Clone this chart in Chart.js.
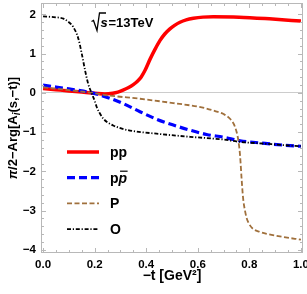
<!DOCTYPE html>
<html>
<head>
<meta charset="utf-8">
<script src="https://cdn.jsdelivr.net/npm/chart.js@4.4.0/dist/chart.umd.min.js"></script>
<style>
  html, body { margin: 0; padding: 0; background: #fff; }
  #wrap { width: 307px; height: 294px; }
</style>
</head>
<body>
<div id="wrap"><canvas id="chart" width="307" height="294"></canvas></div>
<script>
// axis ticks
const xTicks = [0, 0.2, 0.4, 0.6, 0.8, 1.0];
const yTicks = [-4, -3, -2, -1, 0, 1, 2];
const xMinorStep = 0.05;
const yMinorStep = 0.2;

const seriesLabels = ['pp', 'pp\u0304', 'P', 'O'];

// pp (solid red)
const ppT = [0, 0.05, 0.1, 0.15, 0.2, 0.24, 0.27, 0.29, 0.31, 0.33, 0.35, 0.365, 0.38, 0.395, 0.415, 0.435, 0.453, 0.472, 0.492, 0.51, 0.531, 0.555, 0.583, 0.62, 0.66, 0.76, 0.89, 1.0];
const ppV = [0.11, 0.08, 0.05, 0.02, -0.01, -0.03, -0.01, 0.02, 0.07, 0.13, 0.21, 0.29, 0.4, 0.57, 0.86, 1.12, 1.33, 1.5, 1.63, 1.72, 1.8, 1.86, 1.9, 1.93, 1.94, 1.93, 1.88, 1.83];

// p pbar (blue dashed)
const pbarT = [0, 0.05, 0.1, 0.15, 0.19, 0.26, 0.31, 0.376, 0.44, 0.505, 0.57, 0.634, 0.7, 0.764, 0.85, 0.93, 1.0];
const pbarV = [0.2, 0.15, 0.1, 0.05, 0.0, -0.14, -0.27, -0.48, -0.67, -0.82, -0.95, -1.06, -1.13, -1.22, -1.28, -1.33, -1.36];

// P (brown dashed)
const pomT = [0, 0.1, 0.19, 0.26, 0.376, 0.505, 0.6, 0.634, 0.67, 0.7, 0.725, 0.744, 0.757, 0.764, 0.77, 0.776, 0.783, 0.79, 0.8, 0.815, 0.84, 0.867, 0.93, 1.0];
const pomV = [0.14, 0.07, 0.0, -0.07, -0.15, -0.26, -0.35, -0.4, -0.47, -0.54, -0.66, -0.86, -1.2, -1.6, -2.2, -2.7, -3.0, -3.2, -3.35, -3.47, -3.54, -3.59, -3.67, -3.74];

// O (black dot-dash)
const oddT = [0, 0.04, 0.079, 0.1, 0.117, 0.137, 0.15, 0.163, 0.175, 0.189, 0.2, 0.208, 0.22, 0.234, 0.25, 0.272, 0.3, 0.337, 0.44, 0.57, 0.7, 0.764, 0.85, 0.93, 1.0];
const oddV = [1.95, 1.93, 1.89, 1.8, 1.68, 1.38, 1.0, 0.57, 0.23, -0.02, -0.2, -0.36, -0.52, -0.66, -0.75, -0.83, -0.9, -0.96, -1.04, -1.12, -1.19, -1.25, -1.29, -1.33, -1.36];

const FONT = "'Liberation Sans', Arial, sans-serif";

function pts(ts, vs) {
    return ts.map((t, i) => ({ x: t, y: vs[i] }));
}

// frame with inward major/minor ticks on all four sides
const frameTicks = {
    id: 'frameTicks',
    afterDatasetsDraw(chart) {
        const { ctx, chartArea: a, scales: { x, y } } = chart;
        ctx.save();
        ctx.strokeStyle = '#b8b8b8';
        ctx.lineWidth = 1;
        ctx.strokeRect(a.left + 0.5, a.top + 0.5, a.right - a.left - 1, a.bottom - a.top - 1);
        ctx.beginPath();
        const nx = Math.round((xTicks[xTicks.length - 1] - xTicks[0]) / xMinorStep);
        for (let i = 0; i <= nx; i++) {
            const v = xTicks[0] + i * xMinorStep;
            const px = Math.round(x.getPixelForValue(v)) + 0.5;
            const len = i % 4 === 0 ? 5 : 3;
            ctx.moveTo(px, a.bottom); ctx.lineTo(px, a.bottom - len);
            ctx.moveTo(px, a.top); ctx.lineTo(px, a.top + len);
        }
        const ny = Math.round((yTicks[yTicks.length - 1] - yTicks[0]) / yMinorStep);
        for (let i = 0; i <= ny; i++) {
            const v = yTicks[0] + i * yMinorStep;
            const py = Math.round(y.getPixelForValue(v)) + 0.5;
            const len = i % 5 === 0 ? 5 : 3;
            ctx.moveTo(a.left, py); ctx.lineTo(a.left + len, py);
            ctx.moveTo(a.right, py); ctx.lineTo(a.right - len, py);
        }
        ctx.stroke();
        ctx.restore();
    }
};

// legend inside the plot, annotation and rotated y title
const extras = {
    id: 'extras',
    afterDraw(chart) {
        const { ctx, chartArea: a } = chart;
        ctx.save();

        // legend
        const lx0 = 67, lx1 = 99, tx = 110, y0 = 152, dy = 25.7;
        chart.data.datasets.forEach((ds, i) => {
            const ly = y0 + i * dy;
            ctx.strokeStyle = ds.borderColor;
            ctx.lineWidth = ds.borderWidth;
            ctx.setLineDash(ds.borderDash || []);
            ctx.beginPath();
            ctx.moveTo(lx0, ly); ctx.lineTo(lx1, ly);
            ctx.stroke();
            ctx.setLineDash([]);
            ctx.fillStyle = '#000';
            ctx.textBaseline = 'alphabetic';
            ctx.textAlign = 'left';
            const base = ly + 5;
            if (ds.label.indexOf('\u0304') >= 0) {
                ctx.font = 'bold 14px ' + FONT;
                ctx.fillText('p', tx, base);
                const w = ctx.measureText('p').width;
                ctx.font = 'italic bold 14px ' + FONT;
                ctx.fillText('p', tx + w, base);
                const w2 = ctx.measureText('p').width;
                ctx.lineWidth = 1.2;
                ctx.strokeStyle = '#000';
                ctx.beginPath();
                ctx.moveTo(tx + w + 1.5, base - 11.5);
                ctx.lineTo(tx + w + w2 + 0.5, base - 11.5);
                ctx.stroke();
            } else {
                ctx.font = 'bold 14px ' + FONT;
                ctx.fillText(ds.label, tx, base);
            }
        });

        // sqrt(s) = 13TeV
        ctx.strokeStyle = '#000';
        ctx.lineWidth = 1.3;
        ctx.beginPath();
        ctx.moveTo(91.5, 21.5);
        ctx.lineTo(93.5, 20.5);
        ctx.lineTo(97, 30.5);
        ctx.lineTo(99.5, 13);
        ctx.lineTo(106, 13);
        ctx.stroke();
        ctx.fillStyle = '#000';
        ctx.font = 'italic bold 13px ' + FONT;
        ctx.fillText('s', 100.5, 26.5);
        ctx.font = 'bold 13px ' + FONT;
        ctx.fillText('=13TeV', 108.5, 26.5);

        // y title
        const pieces = [
            { t: '\u03c0', it: true },
            { t: '/2\u2212Arg[A' },
            { t: 'i', it: true, sub: true },
            { t: '(s,\u2212t)]' }
        ];
        ctx.translate(16.5, (a.top + a.bottom) / 2);
        ctx.rotate(-Math.PI / 2);
        const fontFor = p => (p.it ? 'italic ' : '') + 'bold ' + (p.sub ? 10 : 13) + 'px ' + FONT;
        let total = 0;
        pieces.forEach(p => { ctx.font = fontFor(p); p.w = ctx.measureText(p.t).width; total += p.w; });
        let cx = -total / 2;
        pieces.forEach(p => {
            ctx.font = fontFor(p);
            ctx.fillText(p.t, cx, p.sub ? 3 : 0);
            cx += p.w;
        });
        ctx.restore();
    }
};

const tickFont = { family: FONT, size: 11.5, weight: 'bold' };

new Chart(document.getElementById('chart'), {
    type: 'line',
    data: {
        datasets: [
            { label: seriesLabels[0], data: pts(ppT, ppV), borderColor: '#ff0000', borderWidth: 3.5, borderDash: [], order: 4 },
            { label: seriesLabels[1], data: pts(pbarT, pbarV), borderColor: '#0000ff', borderWidth: 3.2, borderDash: [8, 4], order: 3 },
            { label: seriesLabels[2], data: pts(pomT, pomV), borderColor: '#a0703c', borderWidth: 1.8, borderDash: [5, 2.5], order: 2 },
            { label: seriesLabels[3], data: pts(oddT, oddV), borderColor: '#000000', borderWidth: 1.8, borderDash: [4, 1.8, 1.2, 1.8], order: 1 }
        ]
    },
    options: {
        responsive: false,
        animation: false,
        devicePixelRatio: 1,
        layout: { padding: { top: 3, right: 4, left: 0, bottom: 0 } },
        elements: {
            point: { radius: 0 },
            line: { fill: false, cubicInterpolationMode: 'monotone' }
        },
        plugins: {
            legend: { display: false },
            tooltip: { enabled: false }
        },
        scales: {
            x: {
                type: 'linear',
                min: -0.008,
                max: 1.008,
                afterBuildTicks: s => { s.ticks = xTicks.map(v => ({ value: v })); },
                afterFit: s => { s.height = 41; s.paddingLeft = 0; s.paddingRight = 0; },
                grid: { display: false, drawTicks: false },
                border: { display: false },
                ticks: {
                    font: tickFont, color: '#000', padding: 5, maxRotation: 0, autoSkip: false,
                    callback: v => Number(v).toFixed(1)
                },
                title: {
                    display: true, text: '\u2212t [GeV\u00b2]', color: '#000',
                    font: { family: FONT, size: 14, weight: 'bold' },
                    padding: { top: 0, bottom: 9 }
                }
            },
            y: {
                type: 'linear',
                min: -4.08,
                max: 2.29,
                afterBuildTicks: s => { s.ticks = yTicks.map(v => ({ value: v })); },
                afterFit: s => { s.width = 41; s.paddingTop = 0; s.paddingBottom = 0; },
                grid: {
                    drawTicks: false,
                    color: c => (c.tick && c.tick.value === 0) ? '#cccccc' : 'rgba(0,0,0,0)',
                    lineWidth: 1
                },
                border: { display: false },
                ticks: {
                    font: tickFont, color: '#000', padding: 5,
                    callback: v => String(v).replace('-', '\u2212')
                },
                title: { display: false }
            }
        }
    },
    plugins: [frameTicks, extras]
});
</script>
</body>
</html>
